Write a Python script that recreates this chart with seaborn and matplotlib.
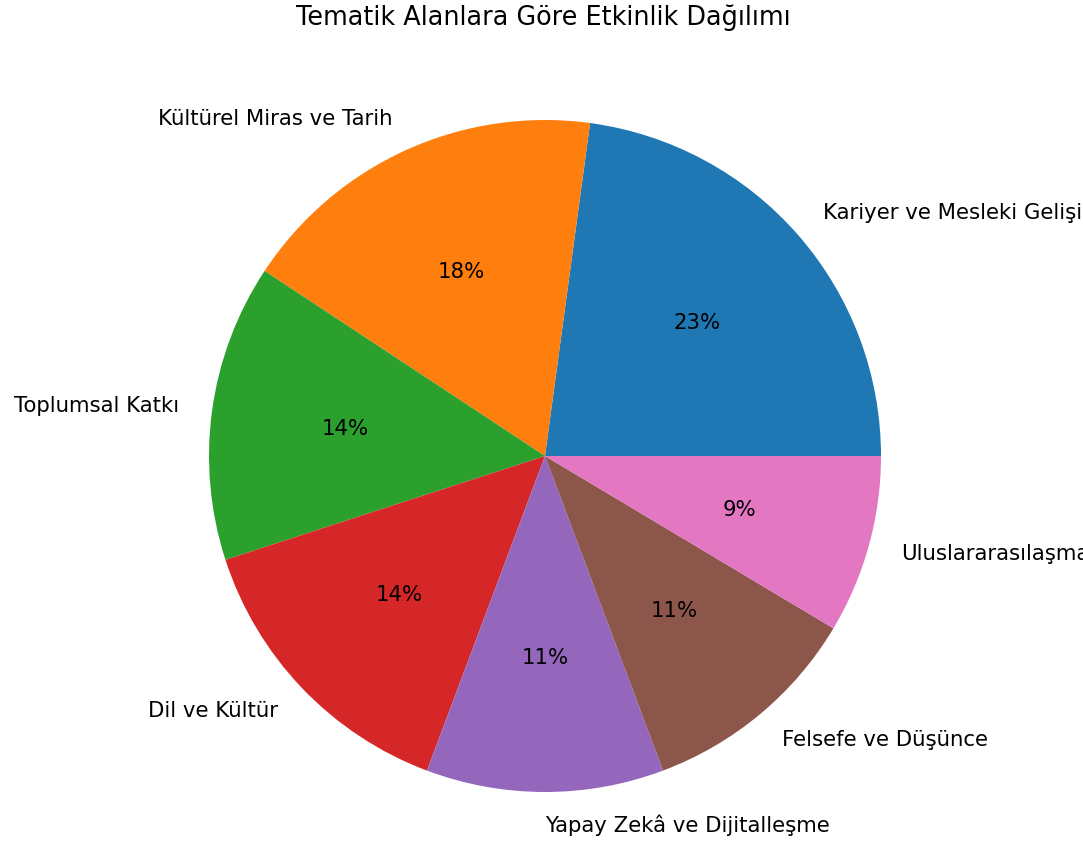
import matplotlib
matplotlib.use("Agg")
import matplotlib.pyplot as plt
import seaborn as sns

# activity counts per thematic area
categories = ["Kariyer ve Mesleki Gelişim", "Kültürel Miras ve Tarih", "Toplumsal Katkı",
              "Dil ve Kültür", "Yapay Zekâ ve Dijitalleşme", "Felsefe ve Düşünce",
              "Uluslararasılaşma"]
counts = [32, 25, 20, 20, 16, 15, 12]

colors = sns.color_palette("tab10", len(categories))

fs = 15.3
fig = plt.figure(figsize=(10.83, 8.46), dpi=100)
ax = fig.add_axes([0, 0, 1, 1])
ax.pie(counts, labels=categories, colors=colors, autopct="%1.0f%%",
       textprops={"fontsize": fs})
# place pie centre and radius to match reference
ax.set_aspect("auto")
ax.set_xlim(-545 / 336, (1083 - 545) / 336)
ax.set_ylim(-390 / 336, (846 - 390) / 336)
fig.text(543 / 1083, 1 - 18 / 846, "Tematik Alanlara Göre Etkinlik Dağılımı",
         ha="center", va="center", fontsize=fs * 1.2)

fig.savefig("out.png", dpi=100)
